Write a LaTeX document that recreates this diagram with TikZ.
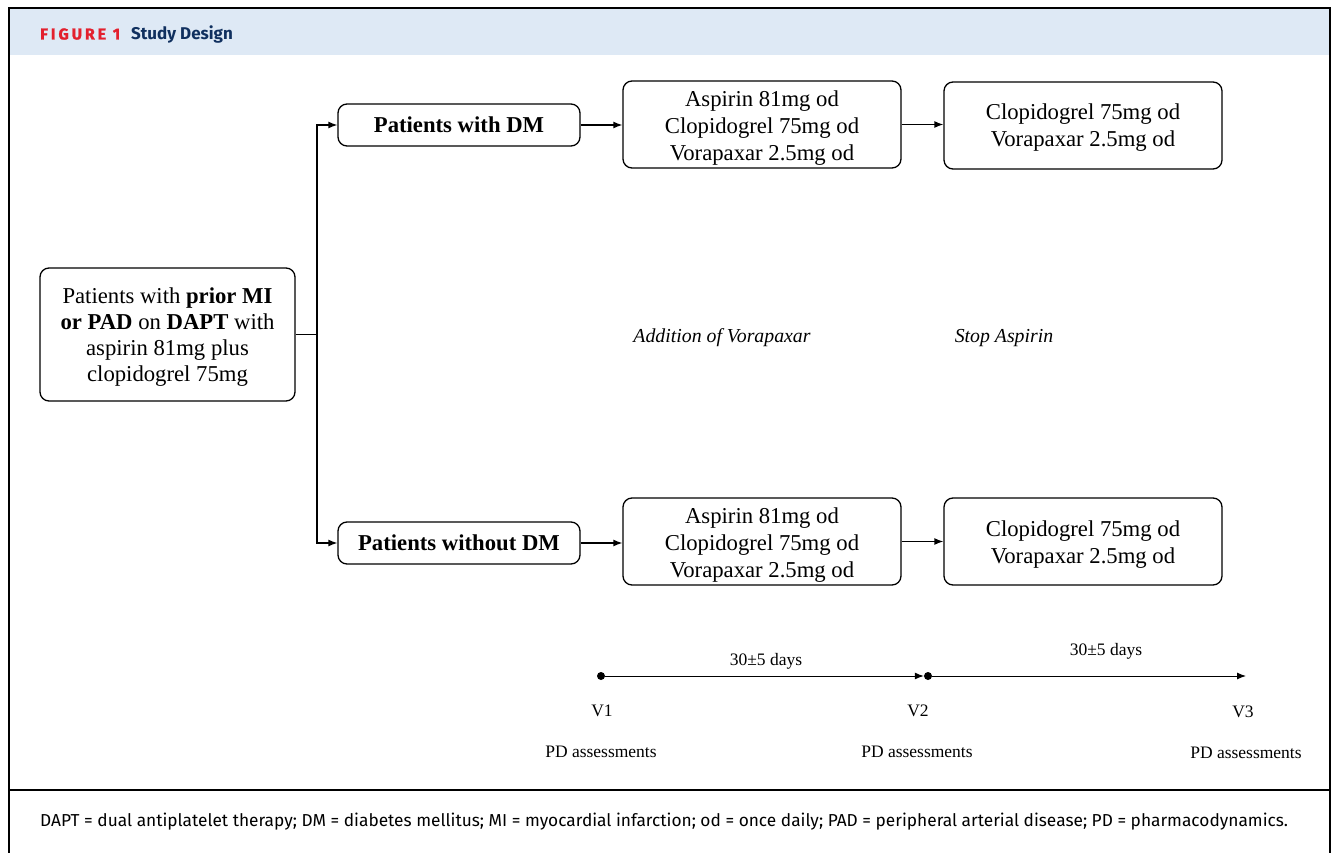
\documentclass[tikz,border=0pt]{standalone}
\usepackage{fontspec}
\setmainfont{Liberation Serif}
\newfontfamily\hdfont{Fira Sans}
\usetikzlibrary{arrows.meta}

\definecolor{hdblue}{HTML}{DEE9F5}
\definecolor{figred}{HTML}{E3202E}
\definecolor{navy}{HTML}{10305F}

\tikzset{
  box/.style={draw, rounded corners=9pt, line width=1.3pt, inner sep=0pt,
    align=center, font=\fontsize{22.7}{27}\selectfont},
  bbox/.style={box, font=\fontsize{22.7}{27}\selectfont\bfseries},
  arr/.style={line width=1.3pt, -{Latex[length=9pt,width=7pt]}},
  dot/.style={circle, fill, inner sep=0pt, minimum size=8pt},
  small/.style={font=\fontsize{17.5}{20}\selectfont},
  note/.style={font=\fontsize{19.8}{22}\selectfont\itshape},
}

\begin{document}
\begin{tikzpicture}[x=1pt,y=-1pt]
  \useasboundingbox (0,0) rectangle (1336,853);
  % frame and header
  \fill[hdblue] (9,9) rectangle (1330,55);
  \draw[line width=2pt] (9,853) -- (9,8) -- (1330,8) -- (1330,853);
  \draw[line width=2pt] (9,790) -- (1330,790);
  \node[anchor=base west, inner sep=0pt, text=figred,
    font=\hdfont\bfseries\fontsize{15.8}{18}\selectfont] (fig) at (40,39.5)
    {\addfontfeatures{LetterSpace=19,FakeBold=1.5}FIGURE 1};
  \node[anchor=base west, inner sep=0pt, text=navy,
    font=\hdfont\bfseries\fontsize{17}{20}\selectfont] (title) at (131,39.5)
    {Study Design};

  % boxes
  \node[box, minimum width=255pt, minimum height=133pt] (start) at (167.5,334.5)
    {};
  \node[align=center, font=\fontsize{22.7}{26}\selectfont] (starttxt) at (167.5,337.5)
    {Patients with \textbf{prior MI}\\ \textbf{or PAD} on \textbf{DAPT} with\\
     aspirin 81mg plus\\ clopidogrel 75mg};
  \node[bbox, minimum width=242pt, minimum height=42pt] (dm) at (459,125) {Patients with DM};
  \node[bbox, minimum width=242pt, minimum height=42pt] (nodm) at (459,543) {Patients without DM};
  \node[box, minimum width=278pt, minimum height=87pt] (triA) at (762,124.5) {};
  \node[box, minimum width=278pt, minimum height=87pt] (dualA) at (1083,125.5) {};
  \node[box, minimum width=278pt, minimum height=87pt] (triB) at (762,541.5) {};
  \node[box, minimum width=278pt, minimum height=87pt] (dualB) at (1083,541.5) {};
  \foreach \b/\dy in {triA/4,triB/4} {
    \node[align=center, font=\fontsize{22.7}{27}\selectfont] at ([yshift=-\dy pt]\b.center)
      {Aspirin 81mg od\\ Clopidogrel 75mg od\\ Vorapaxar 2.5mg od};
  }
  \foreach \b/\dy in {dualA/2,dualB/3} {
    \node[align=center, font=\fontsize{22.7}{27}\selectfont] at ([yshift=-\dy pt]\b.center)
      {Clopidogrel 75mg od\\ Vorapaxar 2.5mg od};
  }

  % connectors
  \coordinate (split) at (317,334.5);
  \draw[line width=1.3pt] (start.east) -- (split);
  \draw[arr] (split) |- (dm.west);
  \draw[arr] (split) |- (nodm.west);
  \draw[arr] (dm.east) -- (dm.east -| triA.west);
  \draw[arr] (triA.east) -- (triA.east -| dualA.west);
  \draw[arr] (nodm.east) -- (nodm.east -| triB.west);
  \draw[arr] (triB.east) -- (dualB.west);

  \node[note] (addv) at (722,338) {Addition of Vorapaxar};
  \node[note] (stopasp) at (1004,338) {Stop Aspirin};

  % timeline
  \node[dot] (v1) at (601,676) {};
  \node[dot] (v2) at (928,676) {};
  \coordinate (v3) at (1246,676);
  \draw[arr, line width=1pt] (v1) -- (v2.west);
  \draw[arr, line width=1pt] (v2) -- (v3);
  \node[small] (daysA) at (766,661) {30±5 days};
  \node[small] (daysB) at (1106,651) {30±5 days};
  \foreach \n/\x/\y in {1/602/711,2/918/711,3/1243/712} {
    \node[small] (lab\n) at (\x,\y) {V\n};
  }
  \foreach \n/\x/\y in {1/601/752,2/917/752,3/1246/753} {
    \node[small] (pd\n) at (\x,\y) {PD assessments};
  }

  % footer
  \node[anchor=base west, inner sep=0pt, font=\hdfont\fontsize{17.3}{20}\selectfont] (foot) at (40,826)
    {DAPT = dual antiplatelet therapy; DM = diabetes mellitus; MI = myocardial infarction; od = once daily; PAD = peripheral arterial disease; PD = pharmacodynamics.};
\end{tikzpicture}
\end{document}
